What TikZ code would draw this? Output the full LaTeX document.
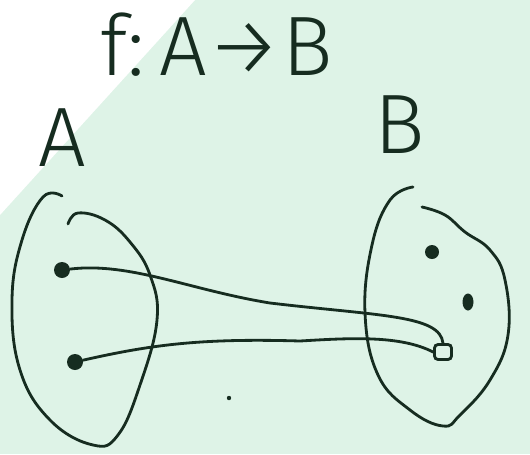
\documentclass[tikz,border=0pt]{standalone}
\usepackage{fontspec}
\usetikzlibrary{shapes.geometric}
\newfontfamily\hand{Fira Sans}[UprightFont={* Light}]
\definecolor{bggreen}{RGB}{222,243,231}
\definecolor{ink}{RGB}{22,44,32}
\tikzset{
  wire/.style={draw=ink, line width=1.6pt, line cap=round},
  dot/.style={circle, fill=ink, inner sep=0pt, minimum size=0.32cm},
  handtext/.style={text=ink, font=\hand\fontsize{48}{50}\selectfont, inner sep=0pt, anchor=base west}
}
\begin{document}
\begin{tikzpicture}[x=0.02cm, y=-0.02cm]
  \useasboundingbox (0,0) rectangle (530,454);
  % paper
  \fill[bggreen] (0,0) rectangle (530,454);
  \fill[white] (0,0) -- (195,0) -- (0,215) -- cycle;

  % Labels
  \node[handtext] (title) at (100,75) {f:\,A→B};
  \node[handtext] (labA) at (38,166) {A};
  \node[handtext] (labB) at (374,153) {B};

  % Sets
  \draw[wire] plot[smooth, tension=0.7] coordinates {(62,196) (43,197) (22,240) (12,300) (20,370) (50,420) (93,445) (118,435) (140,385) (157,320) (150,275) (130,242) (105,220) (78,213) (68,224)};
  \draw[wire] plot[smooth, tension=0.7] coordinates {(413,187) (390,200) (372,245) (365,313) (378,375) (410,410) (443,426) (460,415) (490,380) (508,335) (505,280) (490,250) (465,232) (445,215) (422,207)};

  % Elements
  \node[dot] (a1) at (62,270) {};
  \node[dot] (a2) at (75,362) {};
  \node[dot, minimum size=0.28cm] (b1) at (432,252) {};
  \node[dot, ellipse, minimum width=0.22cm, minimum height=0.34cm] (b2) at (468,302) {};
  \node[draw=ink, line width=1.6pt, fill=bggreen, rounded corners=2pt, inner sep=0pt, minimum width=0.34cm, minimum height=0.3cm] (b3) at (443,352) {};
  \node[circle, fill=ink, inner sep=0pt, minimum size=2.5pt] (speck) at (229,398) {};

  % Mapping
  \draw[wire] (a1) .. controls (130,262) and (190,290) .. (270,303) .. controls (380,316) and (440,315) .. (b3.north);
  \draw[wire] (a2) .. controls (150,345) and (200,338) .. (300,341) .. controls (350,338) and (400,335) .. (b3.west);
\end{tikzpicture}
\end{document}
